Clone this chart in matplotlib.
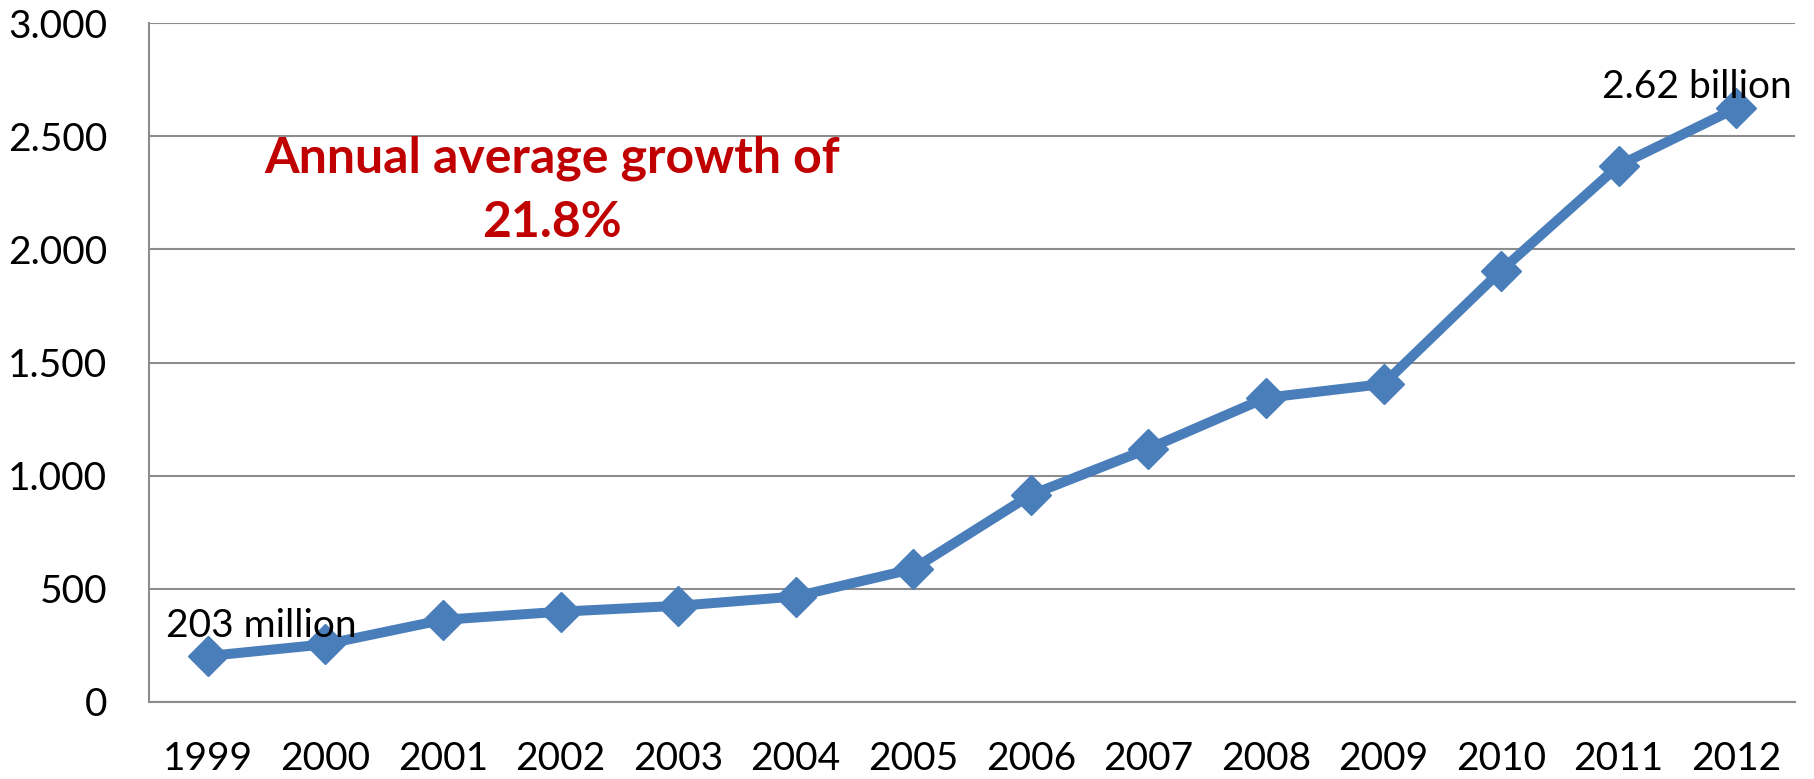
import matplotlib
matplotlib.use("Agg")
import matplotlib.pyplot as plt
import numpy as np

years = ["1999", "2000", "2001", "2002", "2003", "2004", "2005",
         "2006", "2007", "2008", "2009", "2010", "2011", "2012"]
values = [203, 255, 363, 399, 425, 466, 588, 915, 1119, 1344, 1405, 1906, 2370, 2624]
ytick_vals = [0, 500, 1000, 1500, 2000, 2500, 3000]
ytick_labels = ["0", "500", "1.000", "1.500", "2.000", "2.500", "3.000"]

plt.rcParams['font.family'] = ['Lato', 'DejaVu Sans']

fig = plt.figure(figsize=(18.14, 7.79), dpi=100)
W, H = 1814, 779
ax = fig.add_axes([149 / W, 1 - 702 / H, (1795 - 149) / W, (702 - 23) / H])

x = np.arange(len(years))
ax.plot(x, values, color="#4A7EBB", linewidth=7.2, marker="D", markersize=20,
        solid_joinstyle="round", zorder=3, clip_on=False)

ax.set_xlim(-0.5, len(years) - 0.5)
ax.set_ylim(0, 3000)
ax.set_yticks(ytick_vals)
ax.set_yticklabels(ytick_labels)
ax.set_xticks(x)
ax.set_xticklabels(years)
ax.tick_params(axis="both", length=0, labelsize=28, colors="black")
ax.tick_params(axis="y", pad=30)
ax.tick_params(axis="x", pad=28)

ax.grid(axis="y", color="#8C8C8C", linewidth=1.5, zorder=0)
ax.set_axisbelow(True)
for s in ["top", "right"]:
    ax.spines[s].set_visible(False)
ax.spines["left"].set_color("#8C8C8C")
ax.spines["left"].set_linewidth(1.5)
ax.spines["bottom"].set_color("#8C8C8C")
ax.spines["bottom"].set_linewidth(1.5)

ax.text(x[0] - 0.355, 287, "203 million", fontsize=28, ha="left", va="baseline")
ax.text(x[-1] + 0.476, 2669, "2.62 billion", fontsize=28, ha="right", va="baseline")

ax.text(2.93, 2338, "Annual average growth of", fontsize=36, fontweight="bold",
        color="#C00000", ha="center", va="baseline")
ax.text(2.93, 2055, "21.8%", fontsize=36, fontweight="bold",
        color="#C00000", ha="center", va="baseline")

fig.savefig("out.png", dpi=100)
